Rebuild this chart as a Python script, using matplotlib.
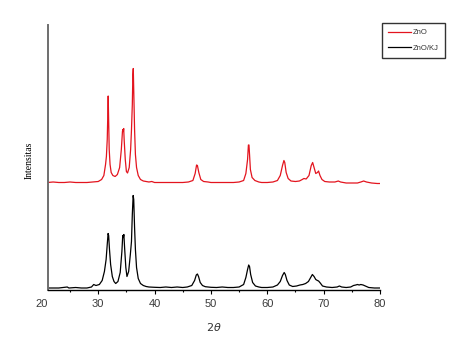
import matplotlib
matplotlib.use("Agg")
import matplotlib.pyplot as plt

# 2-theta (deg) and intensity (a.u.) for ZnO (plotted with vertical offset already included)
zno_x = [21.0, 22.0, 23.0, 24.0, 25.0, 26.0, 27.0, 28.0, 29.0, 30.0, 30.6, 31.0, 31.3, 31.45,
         31.6, 31.72, 31.77, 31.83, 31.95, 32.1, 32.3, 32.6, 33.0, 33.4, 33.8, 34.1, 34.3,
         34.38, 34.45, 34.52, 34.6, 34.8, 35.0, 35.2, 35.5, 35.75, 35.9, 36.05, 36.15, 36.22,
         36.3, 36.45, 36.6, 36.8, 37.1, 37.5, 38.0, 38.5, 39.0, 39.5, 40.0, 41.0, 42.0, 43.0,
         44.0, 45.0, 46.0, 46.8, 47.2, 47.45, 47.6, 47.85, 48.2, 48.7, 49.5, 50.0, 51.0, 52.0,
         53.0, 54.0, 55.0, 55.8, 56.2, 56.5, 56.65, 56.75, 56.85, 57.0, 57.3, 57.8, 58.5, 59.0,
         60.0, 61.0, 61.8, 62.3, 62.7, 62.95, 63.1, 63.35, 63.7, 64.2, 65.0, 65.7, 66.2, 66.5,
         66.9, 67.4, 67.8, 68.05, 68.3, 68.6, 68.9, 69.1, 69.35, 69.7, 70.2, 71.0, 72.0, 72.6,
         73.0, 74.0, 75.0, 76.0, 76.6, 77.1, 77.6, 78.5, 79.5, 80.0]
zno_y = [107, 107.5, 107, 107, 107.5, 107, 107, 107, 107.5, 108, 110, 114, 125, 133,
         150, 180, 193.5, 175, 140, 125, 117, 114, 113, 115, 122, 140, 158,
         160, 158, 161, 150, 130, 118, 116.5, 122, 140, 159.5, 185, 215, 221,
         200, 160, 135, 122, 114, 110, 108.5, 108, 107.5, 108, 107, 107, 107, 107,
         107, 107, 107.5, 109, 116, 124.5, 124, 117, 110, 108, 107.5, 107, 107, 107,
         107, 107, 107.5, 109, 116, 130, 144.5, 144.5, 135, 120, 112, 109, 107.5, 107,
         107, 107.5, 109, 114, 124, 129, 127, 117, 111, 108.5, 108, 108.5, 110, 111,
         110.5, 114, 124, 127, 122, 116, 117, 118.5, 114, 110, 108, 107.5, 107.5, 108.5,
         107.5, 106.5, 106.5, 106.5, 107.5, 108.5, 107.5, 106.5, 106, 106]

# 2-theta (deg) and intensity (a.u.) for ZnO/KJ
znokj_x = [21.0, 22.0, 23.0, 24.5, 24.8, 26.0, 27.0, 28.0, 28.8, 29.2, 29.6, 30.2, 30.7, 31.1,
           31.4, 31.6, 31.75, 31.85, 32.0, 32.2, 32.5, 32.8, 33.1, 33.5, 33.9, 34.2, 34.35,
           34.45, 34.55, 34.7, 34.9, 35.1, 35.4, 35.7, 35.9, 36.05, 36.2, 36.3, 36.45, 36.6,
           36.8, 37.1, 37.5, 38.0, 38.5, 39.0, 40.0, 41.0, 42.0, 43.0, 44.0, 45.0, 45.8, 46.6,
           47.1, 47.4, 47.6, 47.8, 48.1, 48.5, 49.0, 50.0, 51.0, 52.0, 53.0, 54.0, 55.0, 55.8,
           56.2, 56.5, 56.7, 56.85, 57.05, 57.4, 57.9, 58.5, 59.0, 60.0, 61.0, 61.8, 62.3, 62.7,
           63.0, 63.2, 63.5, 63.9, 64.5, 65.2, 65.8, 66.3, 66.8, 67.3, 67.7, 68.0, 68.3, 68.6,
           68.9, 69.1, 69.4, 69.8, 70.5, 71.5, 72.4, 72.8, 73.2, 74.0, 74.8, 75.3, 75.7, 76.0,
           76.3, 76.6, 77.0, 77.4, 78.0, 79.0, 80.0]
znokj_y = [1.5, 1.5, 1.5, 2.5, 1.5, 2.0, 1.5, 1.5, 2.5, 5, 4, 5, 9, 18,
           30, 45, 56, 54, 40, 25, 13, 8, 6, 8, 17, 38, 54,
           52, 55, 40, 22, 13, 18, 35, 48, 75, 94, 90, 62, 40,
           22, 11, 6, 4, 3, 2.5, 2.2, 2, 2.5, 2, 2.5, 2, 2.5, 4,
           9, 14.5, 15.5, 13, 7, 4, 2.8, 2.2, 2, 2.5, 2, 2, 2.5, 5,
           12, 20, 24.5, 23, 15, 7, 3.5, 2.5, 2, 2, 2.5, 4.5, 8, 14,
           17, 15, 9, 4.5, 3, 3.5, 4.5, 5, 6, 8, 12, 15, 13, 10,
           9, 8.5, 6.5, 3.5, 2.5, 2, 2.5, 3.5, 2.5, 2, 2.5, 4, 4.5, 5,
           4.5, 5, 4.5, 3.5, 2, 1.5, 1.5]

series_labels = ["ZnO", "ZnO/KJ"]
major_ticks = [30, 40, 50, 60, 70, 80]
minor_ticks = [25, 35, 45, 55, 65, 75]

W, H = 458, 338
fig = plt.figure(figsize=(W / 100, H / 100), dpi=100)
L, R, B, T = 47.5, 380.0, 289.5, 25.0
ax = fig.add_axes([L / W, 1 - B / H, (R - L) / W, (B - T) / H])

ax.plot(zno_x, zno_y, color="#e3141e", lw=0.9, label=series_labels[0])
ax.plot(znokj_x, znokj_y, color="black", lw=0.9, label=series_labels[1])

ax.set_xlim(21, 80)
ax.set_ylim(0, 264.5)

for s in ["top", "right"]:
    ax.spines[s].set_visible(False)
ax.spines["left"].set_color("#6e6e6e")
ax.spines["left"].set_linewidth(1.4)
ax.spines["bottom"].set_color("black")
ax.spines["bottom"].set_linewidth(1.0)

ax.set_yticks([])
ax.set_xticks(major_ticks)
ax.set_xticks(minor_ticks, minor=True)
ax.tick_params(axis="x", which="major", direction="out", length=3, width=0.8,
               labelsize=8, labelcolor="#3a3a3a", pad=4)
ax.tick_params(axis="x", which="minor", direction="out", length=1.5, width=0.8)
for lab in ax.get_xticklabels():
    lab.set_family("Liberation Sans")
# "20" label sits just left of the axis start
ax.text(20, -0.055, "20", transform=ax.get_xaxis_transform(), ha="center", va="center",
        fontsize=8, color="#3a3a3a", family="Liberation Sans", clip_on=False)

ax.set_xlabel(r"$2\theta$", fontsize=8, color="#333333")
ax.xaxis.set_label_coords(0.5, (B - 326.7) / (B - T))
ax.xaxis.label.set_va("center")
ax.set_ylabel("Intensitas", fontsize=7, family="Liberation Serif", color="black")
ax.yaxis.set_label_coords((29 - L) / (R - L), (B - 160.5) / (B - T))
ax.yaxis.label.set_va("center")

leg = ax.legend(loc="upper left", bbox_to_anchor=(382 / W, 1 - 23.3 / H),
                bbox_transform=fig.transFigure, borderaxespad=0,
                handlelength=3.0, handletextpad=0.3, borderpad=0.75, labelspacing=1.1,
                fancybox=False, frameon=True, prop={"family": "Liberation Sans", "size": 5.5})
leg.get_frame().set_edgecolor("black")
leg.get_frame().set_linewidth(1.0)
for t in leg.get_texts():
    t.set_color("#333333")

fig.savefig("out.png", dpi=100)
